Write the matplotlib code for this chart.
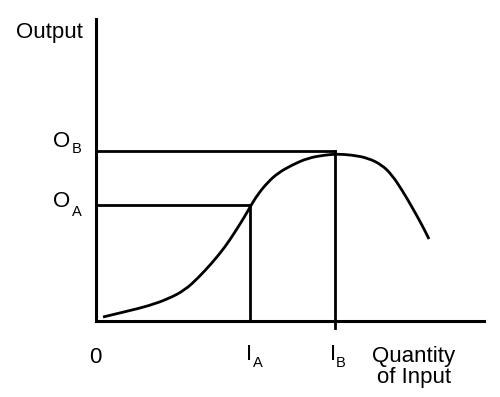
import matplotlib
matplotlib.use("Agg")
import matplotlib.pyplot as plt
from matplotlib.path import Path
from matplotlib.patches import PathPatch

plt.rcParams['font.family'] = ['Liberation Sans', 'DejaVu Sans']

# production curve (input, output)
curve_x = [7, 32, 52, 72, 89, 102, 116, 129, 139, 149, 154, 162, 172, 182,
           196, 212, 229, 241, 256, 272, 286, 296, 306, 316, 326, 333]
curve_y = [4, 10, 15, 22, 31, 43, 58, 74, 89, 105, 114, 127, 139, 148,
           156, 163, 166, 167, 166, 163, 156, 146, 131, 114, 96, 82]

# marked levels
I_A, I_B = 154, 239
O_A, O_B = 116, 170


def smooth_path(xs, ys):
    # quadratic bezier through midpoints, read points act as controls
    pts = list(zip(xs, ys))
    verts = [pts[0]]
    codes = [Path.MOVETO]
    for i in range(1, len(pts) - 1):
        mid = ((pts[i][0] + pts[i + 1][0]) / 2, (pts[i][1] + pts[i + 1][1]) / 2)
        verts += [pts[i], mid]
        codes += [Path.CURVE3, Path.CURVE3]
    verts.append(pts[-1])
    codes.append(Path.LINETO)
    return Path(verts, codes)


fig = plt.figure(figsize=(5.0, 3.97), dpi=100)
ax = fig.add_axes([0.192, 0.1914, 0.776, 0.7607])
ax.set_xlim(0, 388)
ax.set_ylim(0, 302)
for side in ['top', 'right']:
    ax.spines[side].set_visible(False)
for side in ['left', 'bottom']:
    ax.spines[side].set_linewidth(2.2)
ax.set_xticks([])
ax.set_yticks([])

lw = 2.0
ax.add_patch(PathPatch(smooth_path(curve_x, curve_y), facecolor='none',
                       edgecolor='black', lw=lw))
ax.plot([0, I_A], [O_A, O_A], color='black', lw=lw)
ax.plot([I_A, I_A], [0, O_A], color='black', lw=lw)
ax.plot([0, I_B], [O_B, O_B], color='black', lw=lw)
ax.plot([I_B, I_B], [-7, O_B], color='black', lw=lw, clip_on=False)

big, small = 16, 10.5
kw = dict(clip_on=False, va='baseline', color='black')
ax.text(-47, 283, 'Output', ha='center', fontsize=big, **kw)
ax.text(-34, 174, 'O', ha='center', fontsize=big, **kw)
ax.text(-19.5, 168, 'B', ha='center', fontsize=small, **kw)
ax.text(-34, 114, 'O', ha='center', fontsize=big, **kw)
ax.text(-19.5, 105, 'A', ha='center', fontsize=small, **kw)
ax.text(-1, -42, '0', ha='center', fontsize=big, **kw)
ax.text(153, -39, 'I', ha='center', fontsize=big, **kw)
ax.text(161.5, -46, 'A', ha='center', fontsize=small, **kw)
ax.text(237, -39, 'I', ha='center', fontsize=big, **kw)
ax.text(245, -46, 'B', ha='center', fontsize=small, **kw)
ax.text(318, -41, 'Quantity', ha='center', fontsize=big, **kw)
ax.text(318, -62, 'of Input', ha='center', fontsize=big, **kw)

fig.savefig('out.png', dpi=100)
